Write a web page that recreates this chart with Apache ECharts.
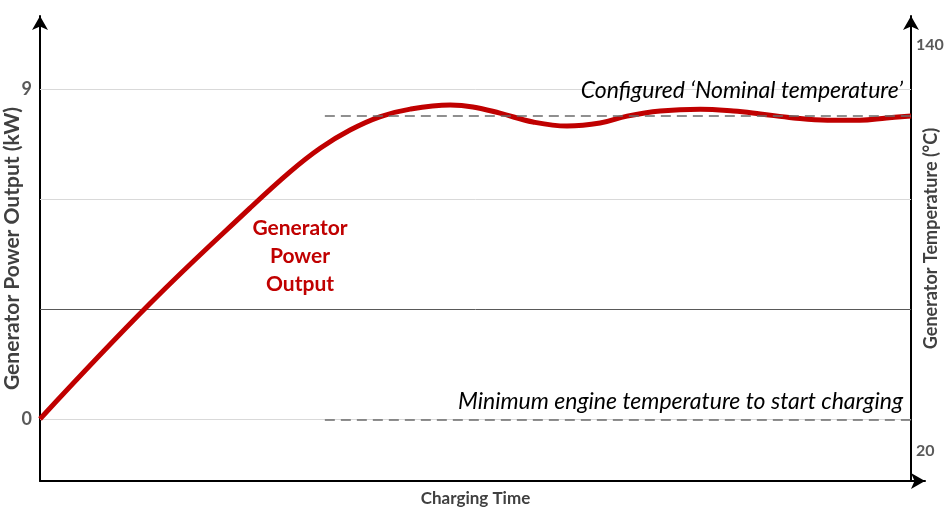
<!DOCTYPE html>
<html>
<head>
<meta charset="utf-8">
<title>Generator Power Output</title>
<script src="https://cdn.jsdelivr.net/npm/echarts@6/dist/echarts.min.js"></script>
<style>
  html, body { margin: 0; padding: 0; background: #fff; }
  #main { width: 950px; height: 508px; }
</style>
</head>
<body>
<div id="main"></div>
<script>
// curve: charging time (0-100) vs power (kW)
const timeVals = [0, 12.6, 24.1, 28.7, 32.2, 35.6, 39.0, 42.5, 47.1, 49.7, 52.8, 56.6,
  60.5, 64.3, 67.4, 71.2, 75.8, 79.6, 82.7, 86.5, 90.4, 94.1, 97.2, 100];
const powerVals = [0, 3.14, 5.75, 6.74, 7.39, 7.88, 8.24, 8.45, 8.56, 8.51, 8.34, 8.10,
  7.99, 8.07, 8.26, 8.40, 8.45, 8.40, 8.32, 8.21, 8.15, 8.15, 8.21, 8.26];

// temperature reference lines (°C)
const nominalTemp = 119.2;
const minChargeTemp = 29.2;
const refStart = 32.7;
const refEnd = 100;

// axis labels that are shown
const powerTicks = [0, 9];
const tempTicks = [20, 140];
const gridValues = [0, 3, 6, 9];

const font = 'Lato, "Open Sans", sans-serif';

let chart = echarts.init(document.getElementById('main'));

let gridLines = gridValues.map(v => [
  {coord: [0, v], lineStyle: {color: v === 3 ? '#595959' : '#d9d9d9', width: 1, type: 'solid'}},
  {coord: [refEnd, v]}
]);

let option = {
  animation: false,
  grid: {left: 40, right: 25, top: 16, bottom: 27, outerBoundsMode: 'none'},
  xAxis: {
    type: 'value',
    min: 0,
    max: 101.6,
    name: 'Charging Time',
    nameLocation: 'middle',
    nameGap: 9,
    nameMoveOverlap: false,
    nameTextStyle: {fontFamily: font, fontWeight: 'bold', fontSize: 17, color: '#404040', padding: [0, 14, 0, 0]},
    axisLine: {onZero: false, lineStyle: {color: '#000', width: 2}, symbol: ['none', 'arrow'], symbolSize: [12, 14]},
    axisTick: {show: false},
    axisLabel: {show: false},
    splitLine: {show: false}
  },
  yAxis: [
    {
      type: 'value',
      min: -1.691,
      max: 10.99,
      name: 'Generator Power Output (kW)',
      nameLocation: 'middle',
      nameRotate: 90,
      nameGap: 17,
      nameMoveOverlap: false,
      nameTextStyle: {fontFamily: font, fontWeight: 'bold', fontSize: 21, color: '#404040'},
      axisLine: {show: true, onZero: false, lineStyle: {color: '#000', width: 2}, symbol: ['none', 'arrow'], symbolSize: [12, 14]},
      axisTick: {show: false},
      axisLabel: {customValues: powerTicks, margin: 8, fontFamily: font, fontWeight: 'bold', fontSize: 18, color: '#595959'},
      splitLine: {show: false}
    },
    {
      type: 'value',
      position: 'right',
      offset: -14,
      min: 11.13,
      max: 148.57,
      name: 'Generator Temperature (°C)',
      nameLocation: 'middle',
      nameRotate: 90,
      nameGap: 11,
      nameMoveOverlap: false,
      nameTextStyle: {fontFamily: font, fontWeight: 'bold', fontSize: 18, color: '#404040', padding: [0, 0, 0, 20]},
      axisLine: {show: true, onZero: false, lineStyle: {color: '#000', width: 2}, symbol: ['none', 'arrow'], symbolSize: [12, 14]},
      axisTick: {show: false},
      axisLabel: {customValues: tempTicks, margin: 5, fontFamily: font, fontWeight: 'bold', fontSize: 16, color: '#595959'},
      splitLine: {show: false}
    }
  ],
  graphic: [
    {
      type: 'text',
      x: 300,
      y: 256,
      style: {
        text: 'Generator\nPower\nOutput',
        align: 'center',
        verticalAlign: 'middle',
        lineHeight: 28,
        fill: '#c00000',
        font: 'bold 21px ' + font
      }
    }
  ],
  series: [
    {
      name: 'grid',
      type: 'line',
      yAxisIndex: 0,
      data: [],
      silent: true,
      markLine: {
        z: 1,
        silent: true,
        symbol: ['none', 'none'],
        label: {show: false},
        data: gridLines
      }
    },
    {
      name: 'Generator Power Output',
      type: 'line',
      yAxisIndex: 0,
      z: 3,
      smooth: 0.4,
      showSymbol: false,
      lineStyle: {color: '#c00000', width: 5},
      data: timeVals.map((t, i) => [t, powerVals[i]])
    },
    {
      name: 'Temperature',
      type: 'line',
      yAxisIndex: 1,
      data: [],
      markLine: {
        z: 5,
        silent: true,
        symbol: ['none', 'none'],
        lineStyle: {color: '#6b6b6b', width: 1.5, type: [10, 6]},
        label: {
          show: true,
          position: 'insideEndTop',
          fontFamily: font,
          fontStyle: 'italic',
          fontSize: 23,
          color: '#000'
        },
        data: [
          [
            {coord: [refStart, nominalTemp], label: {formatter: 'Configured \u2018Nominal temperature\u2019', distance: [8, 13]}},
            {coord: [refEnd, nominalTemp]}
          ],
          [
            {coord: [refStart, minChargeTemp], label: {formatter: 'Minimum engine temperature to start charging', distance: [8, 7]}},
            {coord: [refEnd, minChargeTemp]}
          ]
        ]
      }
    }
  ]
};

option && chart.setOption(option);
</script>
</body>
</html>
